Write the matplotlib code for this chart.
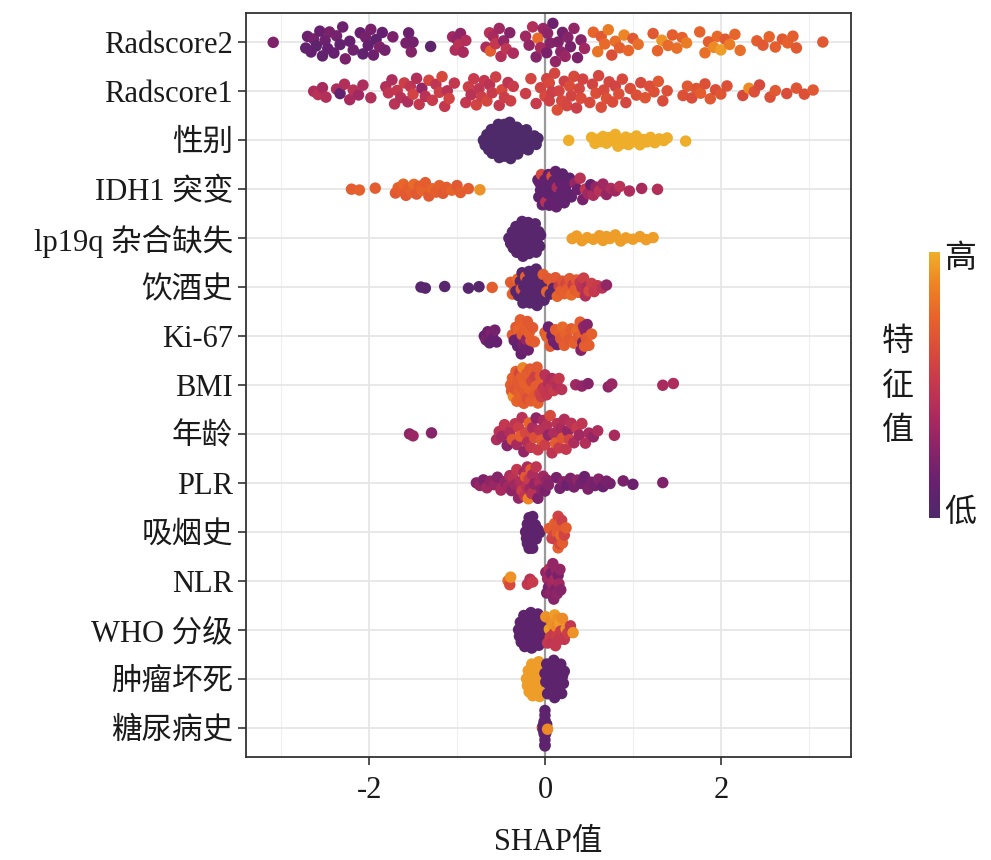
import numpy as np
import matplotlib
matplotlib.use("Agg")
import matplotlib.pyplot as plt
from matplotlib.colors import LinearSegmentedColormap, Normalize
from matplotlib.cm import ScalarMappable

plt.rcParams['font.family'] = ['Liberation Serif', 'Noto Sans CJK SC']
plt.rcParams['axes.unicode_minus'] = False

# feature names, top to bottom
features = ["Radscore2", "Radscore1", "性别", "IDH1 突变", "lp19q 杂合缺失", "饮酒史",
            "Ki-67", "BMI", "年龄", "PLR", "吸烟史", "NLR", "WHO 分级", "肿瘤坏死", "糖尿病史"]

# SHAP values and scaled feature values (0 = low, 1 = high)
shap_rad2 = [-3.09,
             -2.72, -2.70, -2.66, -2.63, -2.60, -2.56, -2.53, -2.50, -2.47, -2.45,
             -2.40, -2.37, -2.33, -2.30, -2.27, -2.22, -2.18,
             -2.10, -2.07, -2.04, -2.01, -1.98, -1.95, -1.92, -1.88, -1.85, -1.82,
             -1.73, -1.58, -1.55, -1.52, -1.50, -1.30,
             -1.05, -1.02, -1.00, -0.98, -0.96, -0.93, -0.90,
             -0.67, -0.63, -0.62, -0.59, -0.56, -0.52, -0.50, -0.47, -0.44, -0.40, -0.36,
             -0.22, -0.18, -0.14, -0.10, -0.08, -0.05, -0.02, 0.03,
             0.02, 0.06, 0.09, 0.12, 0.15, 0.18, 0.20, 0.23, 0.26, 0.29, 0.33, 0.37, 0.41, 0.45,
             0.55, 0.60, 0.64, 0.68, 0.72, 0.76, 0.80, 0.85, 0.90, 0.95, 1.00, 1.06,
             1.23, 1.28, 1.33, 1.40, 1.45, 1.50, 1.56, 1.61,
             1.76, 1.82, 1.86, 1.92, 1.96, 2.00, 2.05, 2.10, 2.16, 2.22,
             2.41, 2.48, 2.55, 2.62, 2.70, 2.76, 2.82, 2.86,
             3.16]
feat_rad2 = [0.22,
             0.10, 0.15, 0.12, 0.18, 0.08, 0.14, 0.10, 0.16, 0.12, 0.20,
             0.12, 0.18, 0.10, 0.15, 0.20, 0.12, 0.16,
             0.14, 0.10, 0.18, 0.12, 0.20, 0.15, 0.08, 0.22, 0.12, 0.18,
             0.20, 0.20, 0.15, 0.25, 0.18, 0.08,
             0.35, 0.40, 0.30, 0.45, 0.28, 0.38, 0.42,
             0.40, 0.45, 0.72, 0.38, 0.50, 0.35, 0.42, 0.30, 0.48, 0.25, 0.40,
             0.35, 0.30, 0.42, 0.25, 0.78, 0.38, 0.32, 0.28,
             0.20, 0.25, 0.15, 0.30, 0.22, 0.28, 0.18, 0.32, 0.25, 0.20, 0.30, 0.22, 0.26, 0.35,
             0.75, 0.82, 0.70, 0.78, 0.85, 0.65, 0.80, 0.72, 0.88, 0.76, 0.70, 0.80,
             0.70, 0.75, 0.92, 0.78, 0.72, 0.80, 0.74, 0.85,
             0.75, 0.80, 0.72, 0.90, 0.78, 0.95, 0.70, 0.85, 0.76, 0.80,
             0.72, 0.70, 0.75, 0.73, 0.70, 0.74, 0.72, 0.70,
             0.70]

shap_rad1 = [-2.63, -2.58, -2.53, -2.49,
             -2.37, -2.33, -2.28, -2.22, -2.18, -2.12, -2.07,
             -1.98,
             -1.81, -1.78, -1.74, -1.71, -1.68, -1.64, -1.60, -1.56, -1.53, -1.50, -1.46,
             -1.43, -1.40, -1.36, -1.32, -1.28, -1.24, -1.20, -1.17, -1.14, -1.11, -1.09,
             -1.03,
             -0.90, -0.87, -0.84, -0.81, -0.78, -0.75, -0.72, -0.69, -0.66, -0.63, -0.60,
             -0.56, -0.52, -0.49, -0.46, -0.42, -0.39, -0.36,
             -0.22, -0.16, -0.10, -0.05, 0.00, 0.05,
             0.02, 0.05, 0.08, 0.11, 0.14, 0.16, 0.19, 0.22, 0.25, 0.28, 0.30, 0.33, 0.36, 0.39, 0.41, 0.43,
             0.51, 0.54, 0.58, 0.61, 0.64, 0.67, 0.70, 0.73, 0.77, 0.80, 0.84, 0.88, 0.92, 0.97,
             1.04, 1.09, 1.14, 1.19, 1.24, 1.29, 1.34, 1.39,
             1.57, 1.62, 1.67, 1.72, 1.77, 1.82, 1.88, 1.94, 2.00, 2.07,
             2.25, 2.32, 2.38, 2.44,
             2.56, 2.62, 2.75, 2.86, 2.95, 3.05]
feat_rad1 = [0.40, 0.45, 0.38, 0.42,
             0.40, 0.10, 0.42, 0.38, 0.45, 0.35, 0.40,
             0.42,
             0.42, 0.48, 0.40, 0.45, 0.50, 0.44, 0.55, 0.40, 0.48, 0.58, 0.42,
             0.50, 0.30, 0.46, 0.60, 0.52, 0.48, 0.55, 0.62, 0.50, 0.45, 0.58,
             0.50,
             0.50, 0.55, 0.45, 0.52, 0.58, 0.48, 0.55, 0.50, 0.60, 0.46, 0.52,
             0.56, 0.50, 0.62, 0.54, 0.48, 0.56, 0.52,
             0.55, 0.60, 0.52, 0.58, 0.62, 0.56,
             0.58, 0.62, 0.55, 0.60, 0.65, 0.58, 0.62, 0.56, 0.60, 0.64, 0.58, 0.62, 0.55, 0.60, 0.63, 0.58,
             0.62, 0.58, 0.65, 0.60, 0.64, 0.62, 0.66, 0.60, 0.63, 0.58, 0.65, 0.62, 0.60, 0.64,
             0.65, 0.62, 0.68, 0.64, 0.66, 0.70, 0.63, 0.66,
             0.66, 0.70, 0.64, 0.68, 0.72, 0.66, 0.70, 0.65, 0.68, 0.66,
             0.62, 0.90, 0.66, 0.62,
             0.66, 0.70, 0.64, 0.68, 0.66, 0.70]

shap_sex = [-0.70, -0.68, -0.66, -0.64, -0.63, -0.62, -0.61, -0.60, -0.59, -0.58, -0.57,
            -0.56, -0.55, -0.54, -0.53, -0.52, -0.51, -0.50, -0.50, -0.49, -0.48, -0.47,
            -0.46, -0.46, -0.45, -0.44, -0.43, -0.42, -0.42, -0.41, -0.40, -0.39, -0.38,
            -0.37, -0.36, -0.35, -0.34, -0.33, -0.32, -0.31, -0.30, -0.29, -0.28, -0.27,
            -0.25, -0.23, -0.21, -0.19, -0.17, -0.15, -0.12, -0.10, -0.08,
            0.27, 0.53, 0.57, 0.60, 0.63, 0.66, 0.70, 0.73, 0.76, 0.80, 0.83, 0.86, 0.89,
            0.92, 0.95, 0.98, 1.01, 1.04, 1.08, 1.12, 1.16, 1.20, 1.25, 1.30, 1.35, 1.39, 1.60]
feat_sex = [0.0] * 53 + [1.0] * 27

shap_idh = [-2.20, -2.11, -1.93,
            -1.70, -1.67, -1.64, -1.61, -1.58, -1.55, -1.52, -1.49, -1.46, -1.43, -1.40,
            -1.36, -1.32, -1.28, -1.24, -1.20, -1.16, -1.12, -1.06, -1.00, -0.96,
            -0.87, -0.74,
            -0.08, -0.07, -0.06, -0.05, -0.04, -0.03, -0.02, -0.01, 0.00, 0.01, 0.02, 0.03,
            0.04, 0.05, 0.06, 0.07, 0.08, 0.09, 0.10, 0.11, 0.12, 0.13, 0.14, 0.15, 0.16,
            0.17, 0.18, 0.19, 0.20, 0.22, 0.24, 0.26, 0.28, 0.30,
            0.34, 0.37, 0.40, 0.43, 0.46, 0.49, 0.52, 0.55, 0.58, 0.62, 0.66, 0.70, 0.75,
            0.80, 0.85, 0.96, 1.10, 1.28]
feat_idh = [0.72, 0.74, 0.72,
            0.70, 0.74, 0.72, 0.76, 0.70, 0.72, 0.74, 0.78, 0.70, 0.72, 0.75,
            0.72, 0.70, 0.76, 0.72, 0.74, 0.70, 0.72, 0.75, 0.70, 0.72,
            0.72, 0.92,
            0.10, 0.08, 0.12, 0.10, 0.60, 0.10, 0.08, 0.12, 0.10, 0.45, 0.10, 0.08,
            0.12, 0.10, 0.08, 0.10, 0.65, 0.12, 0.10, 0.08, 0.10, 0.12, 0.40, 0.10, 0.08,
            0.10, 0.12, 0.10, 0.08, 0.10, 0.12, 0.10, 0.08, 0.10,
            0.30, 0.15, 0.45, 0.20, 0.50, 0.35, 0.15, 0.40, 0.30, 0.45, 0.35, 0.30, 0.40,
            0.35, 0.45, 0.40, 0.38, 0.42]

shap_codel = [-0.41, -0.39, -0.37, -0.36, -0.35, -0.34, -0.33, -0.32, -0.31, -0.30, -0.29,
              -0.28, -0.27, -0.26, -0.26, -0.25, -0.24, -0.23, -0.22, -0.22, -0.21, -0.20,
              -0.19, -0.18, -0.17, -0.16, -0.15, -0.14, -0.13, -0.12, -0.11, -0.10, -0.09,
              -0.08, -0.07, -0.06, -0.05,
              0.31, 0.36, 0.42, 0.48, 0.55, 0.62, 0.66, 0.70, 0.74, 0.80, 0.86, 0.92, 1.00,
              1.08, 1.15, 1.23]
feat_codel = [0.05] * 37 + [0.95] * 16

shap_alc = [-1.41, -1.36, -1.14, -0.87, -0.75, -0.60,
            -0.39, -0.37, -0.35, -0.33, -0.31, -0.30, -0.28, -0.27, -0.26, -0.25, -0.24,
            -0.23, -0.22, -0.21, -0.20, -0.19, -0.18, -0.17, -0.16, -0.15, -0.14, -0.13,
            -0.12, -0.11, -0.10, -0.09, -0.08, -0.07, -0.06, -0.05, -0.04, -0.03, -0.02,
            -0.01, 0.00, 0.02, 0.04,
            0.06, 0.08, 0.10, 0.12, 0.14, 0.16, 0.18, 0.20, 0.22, 0.24, 0.26, 0.28, 0.30,
            0.32, 0.34, 0.36, 0.38, 0.40, 0.42, 0.44, 0.46, 0.48, 0.50, 0.53, 0.56, 0.60,
            0.65, 0.70]
feat_alc = [0.05, 0.05, 0.05, 0.05, 0.05, 0.72,
            0.72, 0.75, 0.70, 0.05, 0.78, 0.05, 0.05, 0.70, 0.05, 0.05, 0.05,
            0.05, 0.72, 0.05, 0.05, 0.05, 0.05, 0.05, 0.05, 0.05, 0.05, 0.05,
            0.05, 0.05, 0.05, 0.05, 0.05, 0.05, 0.05, 0.05, 0.05, 0.05, 0.72,
            0.05, 0.05, 0.75, 0.70,
            0.05, 0.72, 0.05, 0.70, 0.75, 0.55, 0.72, 0.68, 0.74, 0.60, 0.72, 0.70, 0.78,
            0.55, 0.72, 0.70, 0.74, 0.50, 0.45, 0.55, 0.42, 0.40, 0.60, 0.55, 0.50, 0.52,
            0.45, 0.30]

shap_ki67 = [-0.69, -0.67, -0.65, -0.63, -0.61, -0.59, -0.57, -0.55,
             -0.37, -0.35, -0.33, -0.31, -0.30, -0.29, -0.28, -0.27, -0.26, -0.25, -0.24,
             -0.23, -0.22, -0.21, -0.20, -0.19, -0.18, -0.16, -0.14, -0.12,
             0.00, 0.02, 0.04, 0.06, 0.08, 0.10, 0.12, 0.14, 0.16, 0.18, 0.20, 0.22, 0.24,
             0.27, 0.30, 0.33, 0.36, 0.38, 0.40, 0.41, 0.42, 0.43, 0.44, 0.45, 0.46, 0.47,
             0.48, 0.50, 0.53]
feat_ki67 = [0.12, 0.20, 0.15, 0.10, 0.22, 0.14, 0.18, 0.12,
             0.72, 0.15, 0.70, 0.10, 0.75, 0.15, 0.72, 0.12, 0.70, 0.20, 0.74,
             0.15, 0.72, 0.30, 0.70, 0.15, 0.74, 0.72, 0.70, 0.72,
             0.72, 0.75, 0.15, 0.70, 0.12, 0.18, 0.72, 0.15, 0.74, 0.70, 0.78, 0.72, 0.75,
             0.70, 0.72, 0.74, 0.78, 0.70, 0.72, 0.25, 0.74, 0.20, 0.30, 0.72, 0.28, 0.70,
             0.25, 0.72, 0.74]

shap_bmi = [-0.39, -0.38, -0.37, -0.36, -0.35, -0.34, -0.33, -0.32, -0.31, -0.30, -0.29,
            -0.28, -0.27, -0.26, -0.25, -0.24, -0.23, -0.22, -0.21, -0.20, -0.19, -0.18,
            -0.17, -0.16, -0.15, -0.14, -0.13, -0.12, -0.11, -0.10, -0.09, -0.08, -0.07,
            -0.06, -0.05, -0.04, -0.03, -0.02,
            0.00, 0.02, 0.04, 0.06, 0.08, 0.10, 0.12, 0.14, 0.16, 0.19,
            0.35, 0.42, 0.49, 0.72, 0.76,
            1.34, 1.46]
feat_bmi = [0.72, 0.70, 0.74, 0.90, 0.72, 0.68, 0.72, 0.75, 0.70, 0.72, 0.60,
            0.74, 0.72, 0.70, 0.88, 0.72, 0.74, 0.70, 0.72, 0.65, 0.72, 0.74,
            0.70, 0.72, 0.60, 0.74, 0.72, 0.70, 0.55, 0.72, 0.70, 0.74, 0.72,
            0.58, 0.70, 0.55, 0.72, 0.50,
            0.45, 0.50, 0.42, 0.48, 0.40, 0.52, 0.45, 0.42, 0.50, 0.45,
            0.35, 0.30, 0.25, 0.28, 0.32,
            0.38, 0.40]

shap_age = [-1.54, -1.50, -1.29,
            -0.55, -0.52, -0.49, -0.46, -0.43, -0.40, -0.37, -0.34, -0.32, -0.30, -0.28,
            -0.26, -0.24, -0.22, -0.20, -0.18, -0.16, -0.14, -0.12, -0.10, -0.08, -0.06,
            -0.04, -0.02, 0.00, 0.02, 0.04, 0.06, 0.08, 0.10, 0.12, 0.14, 0.16, 0.18,
            0.20, 0.22, 0.24, 0.26, 0.28, 0.30, 0.33, 0.36, 0.39, 0.42, 0.46, 0.50, 0.55,
            0.60, 0.79]
feat_age = [0.28, 0.32, 0.25,
            0.40, 0.45, 0.35, 0.50, 0.25, 0.42, 0.70, 0.48, 0.38, 0.55, 0.72,
            0.45, 0.30, 0.60, 0.42, 0.75, 0.50, 0.40, 0.65, 0.28, 0.52, 0.45,
            0.70, 0.38, 0.55, 0.44, 0.30, 0.62, 0.48, 0.40, 0.72, 0.45, 0.52, 0.38,
            0.68, 0.42, 0.50, 0.30, 0.58, 0.45, 0.40, 0.52, 0.35, 0.48, 0.42, 0.38, 0.30,
            0.40, 0.38]

shap_plr = [-0.78, -0.74, -0.70, -0.66, -0.62, -0.58, -0.54, -0.50, -0.46, -0.42,
            -0.40, -0.38, -0.36, -0.34, -0.32, -0.30, -0.28, -0.26, -0.24, -0.23, -0.22,
            -0.21, -0.20, -0.19, -0.18, -0.17, -0.16, -0.15, -0.14, -0.12, -0.10, -0.08,
            -0.06, -0.04, -0.02, 0.00, 0.02, 0.04,
            0.13, 0.17, 0.21, 0.25, 0.29, 0.33, 0.37, 0.41, 0.45, 0.49, 0.53, 0.57, 0.61,
            0.66, 0.70, 0.74,
            0.89, 1.00, 1.34]
feat_plr = [0.25, 0.30, 0.22, 0.35, 0.28, 0.32, 0.25, 0.38, 0.30, 0.35,
            0.40, 0.28, 0.45, 0.35, 0.50, 0.30, 0.42, 0.55, 0.38, 0.48, 0.70,
            0.45, 0.40, 0.88, 0.52, 0.35, 0.72, 0.45, 0.40, 0.30, 0.48, 0.22,
            0.40, 0.28, 0.35, 0.20, 0.30, 0.25,
            0.20, 0.18, 0.25, 0.15, 0.22, 0.20, 0.28, 0.18, 0.15, 0.22, 0.20, 0.18, 0.25,
            0.15, 0.20, 0.18,
            0.20, 0.15, 0.22]

shap_smoke = [-0.22, -0.21, -0.20, -0.20, -0.19, -0.19, -0.18, -0.18, -0.17, -0.17, -0.16,
              -0.16, -0.15, -0.15, -0.14, -0.14, -0.13, -0.12, -0.11, -0.10, -0.08, -0.06,
              0.05, 0.08, 0.09, 0.10, 0.11, 0.12, 0.13, 0.14, 0.15, 0.15, 0.16, 0.16, 0.17,
              0.17, 0.18, 0.18, 0.19, 0.20, 0.21, 0.22, 0.24]
feat_smoke = [0.08] * 22 + [0.70, 0.55, 0.72, 0.60, 0.75, 0.55, 0.70, 0.72, 0.58, 0.74, 0.70,
                            0.55, 0.72, 0.60, 0.70, 0.78, 0.55, 0.72, 0.70, 0.58, 0.72]

shap_nlr = [-0.42, -0.40, -0.39, -0.20, -0.17, -0.14,
            0.01, 0.02, 0.03, 0.04, 0.05, 0.06, 0.07, 0.08, 0.09, 0.10, 0.11, 0.12, 0.13,
            0.14, 0.15, 0.16, 0.17, 0.18]
feat_nlr = [0.78, 0.62, 0.92, 0.50, 0.45, 0.52,
            0.30, 0.22, 0.35, 0.18, 0.40, 0.28, 0.20, 0.35, 0.30, 0.25, 0.38, 0.22, 0.32,
            0.28, 0.20, 0.35, 0.30, 0.25]

shap_who = [-0.30, -0.29, -0.28, -0.27, -0.26, -0.25, -0.24, -0.23, -0.22, -0.21, -0.20,
            -0.19, -0.18, -0.17, -0.16, -0.15, -0.14, -0.13, -0.12, -0.11, -0.10, -0.09,
            -0.08, -0.07, -0.06, -0.05, -0.04, -0.03, -0.02, -0.01,
            0.01, 0.03, 0.05, 0.06, 0.07, 0.08, 0.09, 0.10, 0.11, 0.12, 0.13, 0.14, 0.15,
            0.16, 0.17, 0.18, 0.20, 0.22, 0.24, 0.26, 0.29, 0.32]
feat_who = [0.08] * 30 + [0.92, 0.50, 0.95, 0.55, 0.90, 0.48, 0.92, 0.52, 0.95, 0.50, 0.90,
                          0.55, 0.92, 0.50, 0.95, 0.52, 0.90, 0.50, 0.92, 0.55, 0.50, 0.92]

shap_necro = [-0.21, -0.20, -0.19, -0.18, -0.17, -0.16, -0.15, -0.14, -0.13, -0.12, -0.11,
              -0.10, -0.09, -0.08, -0.07, -0.06, -0.05, -0.04, -0.03, -0.02,
              0.00, 0.01, 0.02, 0.03, 0.04, 0.05, 0.06, 0.07, 0.08, 0.09, 0.10, 0.11, 0.12,
              0.13, 0.14, 0.15, 0.16, 0.17, 0.18, 0.19, 0.20, 0.21, 0.22]
feat_necro = [0.95] * 20 + [0.08] * 23

shap_diab = [-0.03, -0.02, -0.02, -0.01, -0.01, -0.01, -0.01, 0.00, 0.00, 0.00, 0.00, 0.00,
             0.00, 0.00, 0.00, 0.00, 0.00, 0.01, 0.01, 0.01, 0.01, 0.02, 0.02, 0.03]
feat_diab = [0.70, 0.08, 0.08, 0.08, 0.08, 0.08, 0.08, 0.08, 0.08, 0.08, 0.08, 0.08,
             0.08, 0.08, 0.08, 0.08, 0.08, 0.08, 0.08, 0.08, 0.08, 0.08, 0.08, 0.90]

shap_all = [shap_rad2, shap_rad1, shap_sex, shap_idh, shap_codel, shap_alc, shap_ki67,
            shap_bmi, shap_age, shap_plr, shap_smoke, shap_nlr, shap_who, shap_necro, shap_diab]
feat_all = [feat_rad2, feat_rad1, feat_sex, feat_idh, feat_codel, feat_alc, feat_ki67,
            feat_bmi, feat_age, feat_plr, feat_smoke, feat_nlr, feat_who, feat_necro, feat_diab]

cmap = LinearSegmentedColormap.from_list(
    "shap_inferno",
    ["#4e2a6a", "#66206f", "#862469", "#a82a5f", "#c3384f",
     "#d84a3c", "#e6622b", "#ec8225", "#eeae2a"])


def bw_nrd0(x):
    hi = np.std(x, ddof=1)
    q75, q25 = np.percentile(x, [75, 25])
    lo = min(hi, (q75 - q25) / 1.34)
    if not lo:
        lo = hi or abs(x[0]) or 1.0
    return 0.9 * lo * len(x) ** -0.2


def van_der_corput(n, base=2):
    out = []
    for i in range(1, n + 1):
        v, denom, k = 0.0, 1.0, i
        while k:
            denom *= base
            k, r = divmod(k, base)
            v += r / denom
        out.append(v)
    return np.array(out)


def quasirandom(x, width=0.4, adjust=0.5):
    # same idea as ggbeeswarm::geom_quasirandom
    x = np.asarray(x, float)
    bw = bw_nrd0(x) * adjust
    grid = np.linspace(x.min() - 3 * bw, x.max() + 3 * bw, 512)
    kde = lambda t: np.exp(-0.5 * ((t[:, None] - x[None, :]) / bw) ** 2).sum(1)
    dens = kde(x) / kde(grid).max()
    order = np.argsort(x, kind="stable")
    rank = np.empty(len(x), int)
    rank[order] = np.arange(len(x))
    off = van_der_corput(len(x))[rank]
    return (off - 0.5) * 2 * dens * width


fig = plt.figure(figsize=(9.91, 8.60), dpi=100)
ax = fig.add_axes([0.2482, 0.1198, 0.6105, 0.8651])

n = len(features)
ax.axvline(0, color="#9a9a9a", lw=1.6, zorder=1)
for i, (sv, fv) in enumerate(zip(shap_all, feat_all)):
    ypos = n - i
    dy = quasirandom(sv)
    ax.scatter(sv, ypos + dy, c=fv, cmap=cmap, vmin=0, vmax=1, s=68,
               linewidths=0, zorder=2)

ax.set_xlim(-3.40, 3.48)
ax.set_ylim(0.4, n + 0.6)
ax.set_xticks([-2, 0, 2])
ax.set_xticks([-3, -1, 1, 3], minor=True)
ax.set_yticks(range(n, 0, -1))
ax.set_yticklabels(features)
ax.grid(which="major", color="#e6e6e6", lw=1.3, zorder=0)
ax.grid(which="minor", axis="x", color="#efefef", lw=0.8, zorder=0)
ax.set_axisbelow(True)
ax.tick_params(axis="both", which="major", length=6, width=1.2, color="#333333",
               labelsize=22, labelcolor="#1a1a1a")
ax.tick_params(axis="x", which="minor", length=0)
ax.tick_params(axis="x", pad=8)
for sp in ax.spines.values():
    sp.set_color("#333333")
    sp.set_linewidth(1.3)
ax.set_xlabel("SHAP值", fontsize=22, color="#1a1a1a", labelpad=16)

# colour bar legend
cax = fig.add_axes([0.9374, 0.3977, 0.011, 0.309])
cb = fig.colorbar(ScalarMappable(norm=Normalize(0, 1), cmap=cmap), cax=cax)
cb.outline.set_visible(False)
cb.set_ticks([])
fig.text(0.953, 0.698, "高", fontsize=23, color="#1a1a1a", va="center", ha="left")
fig.text(0.953, 0.403, "低", fontsize=23, color="#1a1a1a", va="center", ha="left")
fig.text(0.906, 0.550, "特\n征\n值", fontsize=23, color="#1a1a1a", va="center",
         ha="center", linespacing=1.68)

fig.savefig("out.png", dpi=100)
